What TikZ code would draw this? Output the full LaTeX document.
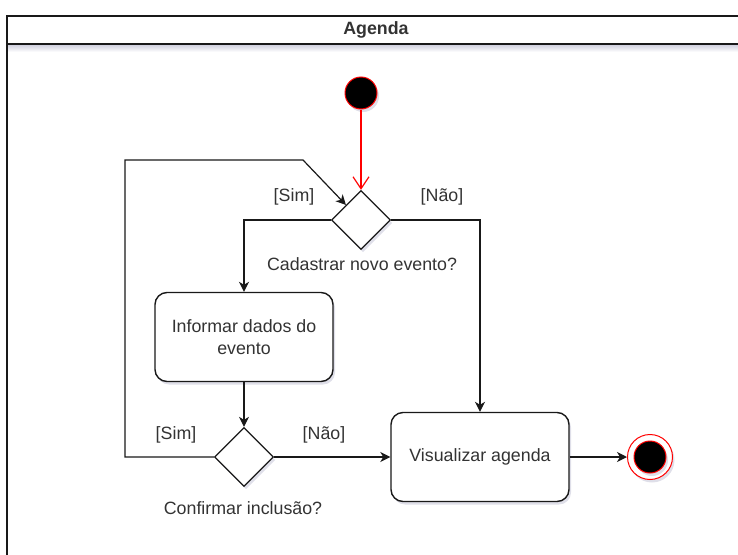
\documentclass[tikz,border=0pt]{standalone}
\usepackage{fontspec}
\setmainfont{Liberation Sans}
\usetikzlibrary{arrows.meta,calc,positioning,shapes.geometric,shadows}
\definecolor{LineClr}{rgb}{0.1,0.1,0.1}
\definecolor{StartClr}{rgb}{1,0,0}
\definecolor{TextClr}{rgb}{0.2,0.2,0.2}
\definecolor{ShadowClr}{rgb}{0.5,0.5,0.65}

\tikzset{
  lane/.style={line width=1.3pt,color=LineClr},
  activity/.style={draw=LineClr,line width=1.4pt,fill=white,rounded corners=12pt,
    minimum width=178pt,minimum height=89pt,align=center,text=TextClr,
    drop shadow={shadow xshift=2pt,shadow yshift=-3pt,opacity=.25,fill=ShadowClr}},
  decision/.style={diamond,draw=LineClr,line width=1.3pt,fill=white,inner sep=0pt,
    minimum width=59pt,minimum height=59pt,
    drop shadow={shadow xshift=2pt,shadow yshift=-3pt,opacity=.25,fill=ShadowClr}},
  startdot/.style={circle,draw=StartClr,line width=1pt,fill=black,inner sep=0pt,
    minimum size=32pt,
    drop shadow={shadow xshift=2pt,shadow yshift=-3pt,opacity=.25,fill=ShadowClr}},
  endring/.style={circle,draw=StartClr,line width=1pt,fill=white,inner sep=0pt,
    minimum size=45pt,
    drop shadow={shadow xshift=2pt,shadow yshift=-3pt,opacity=.25,fill=ShadowClr}},
  guard/.style={text=TextClr,inner sep=0pt},
  flow/.style={line width=1.2pt,color=LineClr,-{Stealth[length=10pt,width=10pt,inset=3pt]}},
  startflow/.style={line width=1.2pt,color=StartClr,-{Straight Barb[length=12pt,width=16pt]}}
}

\begin{document}
\begin{tikzpicture}[x=1pt,y=-1pt,font=\fontsize{17.8}{22}\selectfont]
\useasboundingbox (0,0) rectangle (738,554);

% swimlane
\shade[top color=ShadowClr!35,bottom color=white] (8,45) rectangle (738,52);
\draw[lane] (7,560) -- (7,16) -- (745,16);
\draw[lane] (7,44) -- (745,44);
\node[guard,font=\fontsize{17.8}{22}\selectfont\bfseries] (lanetitle) at (376,30) {Agenda};

\node[startdot] (inicio) at (361,93) {};
\node[decision] (cadastrar) at (361,220) {};
\node[activity] (informar) at (244,337) {Informar dados do\\evento};
\node[decision] (confirmar) at (244,457) {};
\node[activity] (visualizar) at (480,457) {Visualizar agenda};
\node[endring] (fim) at (650,457) {};
\node[startdot] (fimdot) at (fim) {};

\node[guard] (simA) at (294,197) {[Sim]};
\node[guard] (naoA) at (442,197) {[Não]};
\node[guard] (cadastrarlbl) at (362,264) {Cadastrar novo evento?};
\node[guard] (simB) at (176,435) {[Sim]};
\node[guard] (naoB) at (324,435) {[Não]};
\node[guard] (confirmarlbl) at (243,508) {Confirmar inclusão?};

% return path of the loop
\coordinate (voltaA) at (125,160);
\coordinate (voltaB) at (303,160);

\draw[startflow] (inicio) -- (cadastrar.north);
\draw[flow] (cadastrar.west) -| (informar.north);
\draw[flow] (cadastrar.east) -| (visualizar.north);
\draw[flow] (informar) -- (confirmar.north);
\draw[flow] (confirmar.east) -- (visualizar.west);
\draw[flow] (confirmar.west) -| (voltaA) -- (voltaB) -- (cadastrar.north west);
\draw[flow] (visualizar.east) -- (fim.west);

\end{tikzpicture}
\end{document}
